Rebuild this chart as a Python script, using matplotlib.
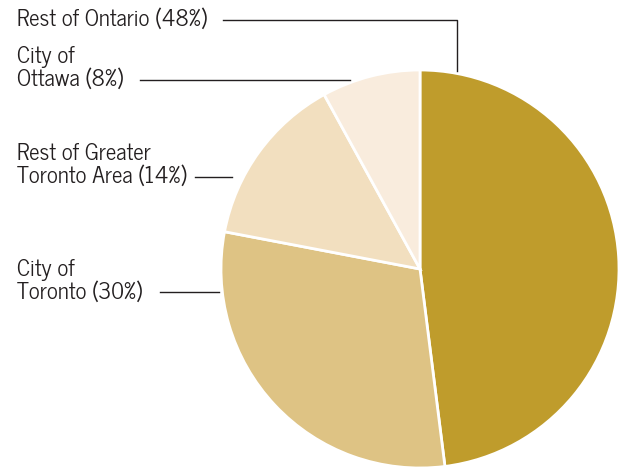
import matplotlib.pyplot as plt

# population share by region
labels = ["Rest of Ontario (48%)", "City of\nToronto (30%)",
          "Rest of Greater\nToronto Area (14%)", "City of\nOttawa (8%)"]
shares = [48, 30, 14, 8]
colors = ["#BF9C2C", "#DEC384", "#F2DFBF", "#F9ECDD"]

W, H = 621, 468
fig = plt.figure(figsize=(W / 100, H / 100), dpi=100)
ax = fig.add_axes([0, 0, 1, 1])

cx, cy, r = 420, H - 269, 199
ax.pie(shares, colors=colors, startangle=90, counterclock=False,
       center=(cx, cy), radius=r, frame=True,
       wedgeprops=dict(edgecolor="white", linewidth=2))
ax.set_xlim(0, W)
ax.set_ylim(0, H)
ax.set_aspect("equal")
ax.axis("off")

font = dict(family=["News Cycle", "DejaVu Sans"], fontsize=16.5,
            color="#231F20", ha="left", va="center", linespacing=1.05)
lc = dict(color="#231F20", linewidth=1)

# Rest of Ontario
ax.text(17, H - 20, labels[0], **font)
ax.plot([223, 457, 457], [H - 20, H - 20, H - 71], **lc)
# Ottawa
ax.text(17, H - 68, labels[3], **font)
ax.plot([140, 350], [H - 80, H - 80], **lc)
# Rest of GTA
ax.text(17, H - 165, labels[2], **font)
ax.plot([195, 232], [H - 177, H - 177], **lc)
# Toronto
ax.text(17, H - 281, labels[1], **font)
ax.plot([160, 219], [H - 292, H - 292], **lc)

fig.savefig("out.png", dpi=100)
